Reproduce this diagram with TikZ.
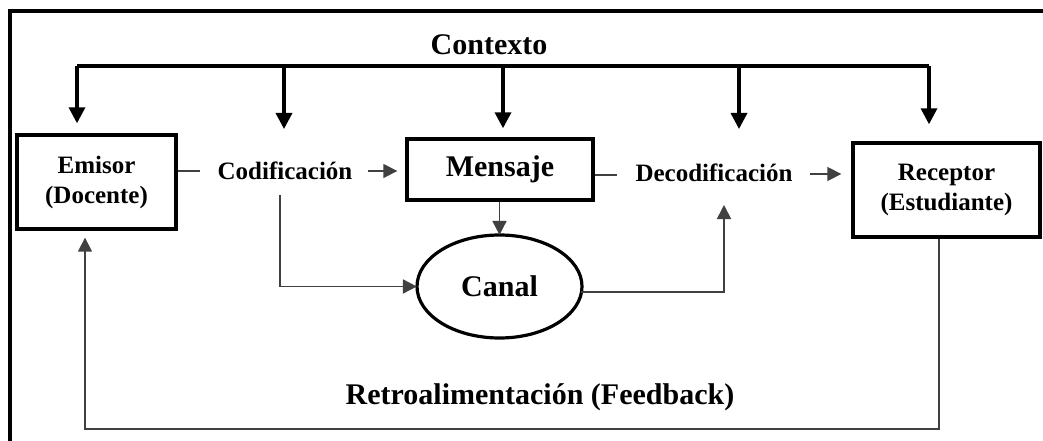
\documentclass[tikz,border=0pt]{standalone}
\usepackage{fontspec}
\setmainfont{Liberation Serif}
\usetikzlibrary{arrows.meta,shapes.geometric}

\tikzset{
  base/.style={font=\bfseries\fontsize{25}{30}\selectfont, align=center, inner sep=0pt},
  bigtext/.style={font=\bfseries\fontsize{30}{34}\selectfont, inner sep=0pt},
  boxnode/.style={base, draw, line width=3.4pt, rectangle},
  ctxline/.style={line width=3.4pt},
  ctxarrow/.style={line width=3.4pt, -{Triangle[length=16pt,width=16pt]}},
  thinline/.style={line width=1.7pt, draw=black!75},
  thinarrow/.style={line width=1.7pt, draw=black!75, -{Triangle[length=14pt,width=14pt]}},
}

\begin{document}
\begin{tikzpicture}[x=1pt,y=-1pt]
  \useasboundingbox (0,0) rectangle (1043,441);

  % outer frame (left and top edges)
  \draw[line width=3.8pt] (10,450) -- (10,11) -- (1050,11);

  % labels and blocks
  \node[bigtext] (ctx) at (489,45) {Contexto};
  \node[boxnode, minimum width=159pt, minimum height=94pt] (emisor) at (96.5,182) {Emisor\\(Docente)};
  \node[base] (codif) at (285,171) {Codificación};
  \node[boxnode, bigtext, minimum width=186pt, minimum height=61pt] (mensaje) at (500,169.5) {Mensaje};
  \node[base] (decod) at (714,173) {Decodificación};
  \node[boxnode, minimum width=187pt, minimum height=94pt] (receptor) at (946.5,190) {Receptor\\(Estudiante)};
  \node[bigtext, draw, ellipse, line width=3.2pt, minimum width=165pt, minimum height=103pt] (canal) at (499.5,286.5) {Canal};
  \node[bigtext] (fb) at (540,397) {Retroalimentación (Feedback)};

  % context bar and its drops
  \coordinate (b1) at (77,66);
  \coordinate (b2) at (284,66);
  \coordinate (b3) at (503,66);
  \coordinate (b4) at (739,66);
  \coordinate (b5) at (929,66);
  \coordinate (t2) at (284,129);
  \coordinate (t4) at (739,129);
  \draw[ctxline] (b1) -- (b5);
  \draw[ctxarrow, shorten >=10pt] (b1) -- (b1 |- emisor.north);
  \draw[ctxarrow] (b2) -- (t2);
  \draw[ctxarrow, shorten >=9pt] (b3) -- (b3 |- mensaje.north);
  \draw[ctxarrow] (b4) -- (t4);
  \draw[ctxarrow, shorten >=17pt] (b5) -- (b5 |- receptor.north);

  % main line of the process
  \draw[thinline, shorten >=17pt] (emisor.east |- codif) -- (codif.west);
  \draw[thinarrow, shorten <=15pt, shorten >=8pt] (codif.east) -- (mensaje.west |- codif);
  \draw[thinline, shorten >=18pt] ([yshift=-5.5pt]mensaje.east) -- ([yshift=-2pt]decod.west);
  \draw[thinarrow, shorten <=17pt, shorten >=10pt] ([yshift=-1pt]decod.east) -- ([yshift=-1pt]receptor.west |- decod);

  % through the channel
  \draw[thinarrow, shorten >=-1.5pt] (mensaje.south -| canal.north) -- (canal.north);
  \coordinate (c1) at (280,195);
  \draw[thinarrow, shorten >=-1.5pt] (c1) |- (canal.west);
  \coordinate (d1) at (724,205);
  \draw[thinarrow, shorten <=-2pt] (canal.-4.5) -| (d1);

  % feedback loop
  \coordinate (f1) at (939,429);
  \coordinate (f2) at (85,429);
  \draw[thinarrow, shorten >=7pt] (receptor.south -| f1) -- (f1) -- (f2) -- (f2 |- emisor.south);
\end{tikzpicture}
\end{document}
